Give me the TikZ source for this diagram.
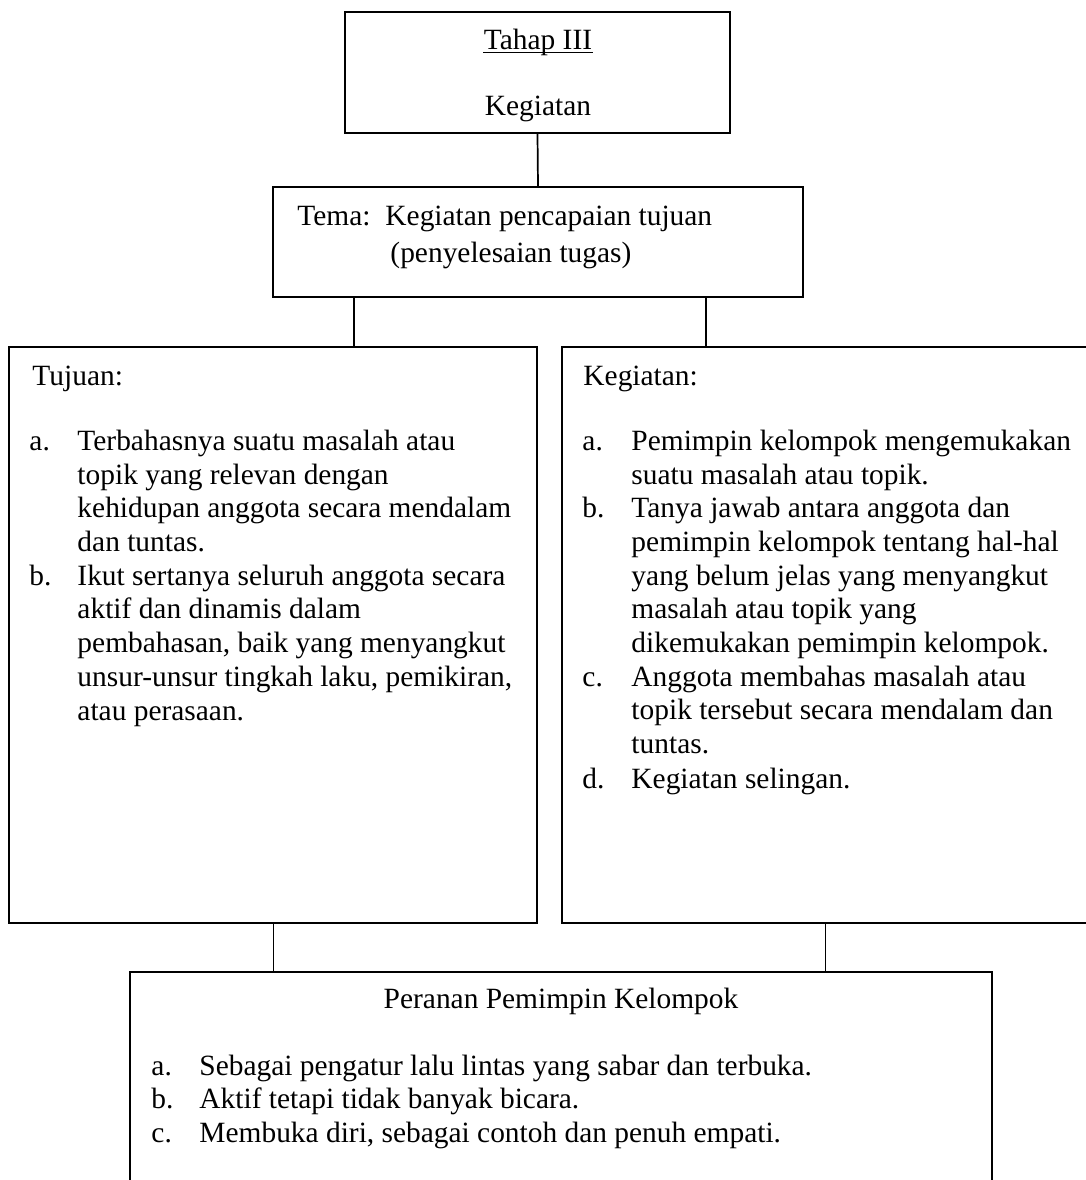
\documentclass[tikz,border=0pt]{standalone}
\usepackage{fontspec}
\setmainfont{Liberation Serif}
\usetikzlibrary{fit}
\begin{document}
\begin{tikzpicture}[x=0.408pt,y=-0.408pt,
  box/.style={draw,line width=0.8pt,inner sep=0pt},
  link/.style={line width=0.7pt},
  txt/.style={anchor=base west,inner sep=0pt,font=\fontsize{12}{13.8}\selectfont},
  ctxt/.style={anchor=base,inner sep=0pt,font=\fontsize{12}{13.8}\selectfont}]
\useasboundingbox (0,0) rectangle (1086,1180);
\clip (0,0) rectangle (1086,1180);
% boxes
\node[box, fit={(345,12) (730,133)}] (top) {};
\node[box, fit={(273,187) (803,297)}] (tema) {};
\node[box, fit={(9,347) (537,923)}] (left) {};
\node[box, fit={(562,347) (1110,923)}] (right) {};
\node[box, fit={(130,972) (992,1200)}] (bottom) {};
% connector anchors
\coordinate (cl) at (354,0);
\coordinate (cr) at (706,0);
\coordinate (bl) at (273.5,0);
\coordinate (br) at (825.5,0);
\draw[link] (top.south) -- (tema.north);
\draw[link] (tema.south -| cl) -- (left.north -| cl);
\draw[link] (tema.south -| cr) -- (right.north -| cr);
\draw[link] (left.south -| bl) -- (bottom.north -| bl);
\draw[link] ([yshift=0.8pt]right.south -| br) -- (bottom.north -| br);
% top text
\node[ctxt] (t1) at (538,49) {Tahap III};
\draw[line width=0.5pt] ([yshift=-1.5pt]t1.base west) -- ([yshift=-1.5pt]t1.base east);
\node[ctxt] (t2) at (538,115) {Kegiatan};
% tema text
\node[txt] (m1) at (297,225) {Tema:};
\node[txt] (m2) at (385,225) {Kegiatan pencapaian tujuan};
\node[txt] (m3) at (390,262) {(penyelesaian tugas)};
% left box
\node[txt] (lh) at (32,385) {Tujuan:};
\node[txt] (la) at (29,450) {a.};
\node[txt] (lb) at (29,585) {b.};
\foreach \yy/\ss [count=\k] in {450/{Terbahasnya suatu masalah atau},
  484/{topik yang relevan dengan},
  517/{kehidupan anggota secara mendalam},
  551/{dan tuntas.},
  585/{Ikut sertanya seluruh anggota secara},
  618/{aktif dan dinamis dalam},
  652/{pembahasan, baik yang menyangkut},
  686/{unsur-unsur tingkah laku, pemikiran,},
  720/{atau perasaan.}}
  \node[txt] (lt\k) at (77,\yy) {\ss};
% right box
\node[txt] (rh) at (583,385) {Kegiatan:};
\node[txt] (ra) at (582,450) {a.};
\node[txt] (rb) at (582,517) {b.};
\node[txt] (rc) at (582,686) {c.};
\node[txt] (rd) at (582,788) {d.};
\foreach \yy/\ss [count=\k] in {450/{Pemimpin kelompok mengemukakan},
  484/{suatu masalah atau topik.},
  517/{Tanya jawab antara anggota dan},
  551/{pemimpin kelompok tentang hal-hal},
  585/{yang belum jelas yang menyangkut},
  618/{masalah atau topik yang},
  652/{dikemukakan pemimpin kelompok.},
  686/{Anggota membahas masalah atau},
  719/{topik tersebut secara mendalam dan},
  753/{tuntas.},
  788/{Kegiatan selingan.}}
  \node[txt] (rt\k) at (631,\yy) {\ss};
% bottom box
\node[ctxt] (bh) at (561,1008) {Peranan Pemimpin Kelompok};
\node[txt] (ba) at (151,1075) {a.};
\node[txt] (bb) at (151,1108) {b.};
\node[txt] (bc) at (151,1142) {c.};
\node[txt] (bt1) at (199,1075) {Sebagai pengatur lalu lintas yang sabar dan terbuka.};
\node[txt] (bt2) at (199,1108) {Aktif tetapi tidak banyak bicara.};
\node[txt] (bt3) at (199,1142) {Membuka diri, sebagai contoh dan penuh empati.};
\end{tikzpicture}
\end{document}
